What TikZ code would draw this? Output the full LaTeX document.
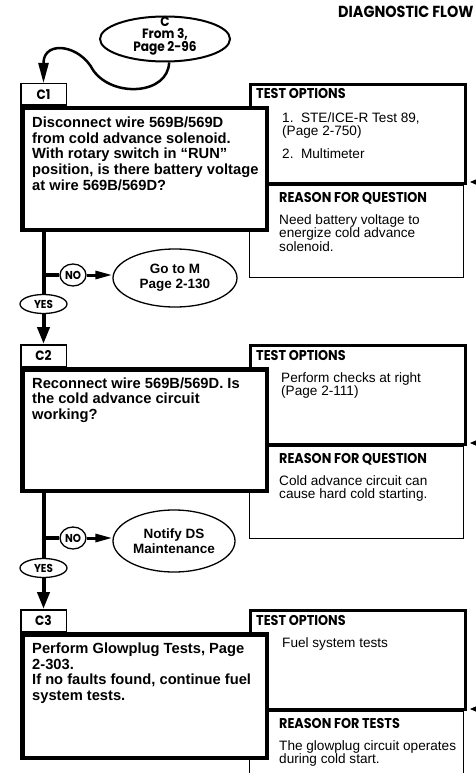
\documentclass[tikz,border=0pt]{standalone}
\usepackage{fontspec}
\setmainfont{Liberation Sans}
\newfontfamily\futfont{Poppins}[FakeStretch=0.9]
\usetikzlibrary{arrows.meta,shapes.geometric,positioning}
\tikzset{
    labbox/.style={draw, line width=1.5pt, minimum width=45.5pt, minimum height=21.5pt, inner sep=0pt,
        font=\futfont\bfseries\fontsize{13.5}{13}\selectfont},
    qbox/.style={draw, fill=white, line width=4.5pt, minimum width=244.5pt, minimum height=121.5pt, inner sep=0pt},
    optbox/.style={draw, line width=2.8pt, minimum width=215.2pt, minimum height=99.2pt, inner sep=0pt},
    whybox/.style={draw, line width=1.2pt, minimum width=213.8pt, minimum height=91.8pt, inner sep=0pt},
    qtext/.style={anchor=north west, inner sep=0pt, align=left, font=\bfseries\fontsize{14.7}{15.7}\selectfont},
    otext/.style={anchor=north west, inner sep=0pt, align=left, font=\fontsize{13.6}{13.5}\selectfont},
    head/.style={anchor=base west, inner sep=0pt, font=\futfont\bfseries\fontsize{14.2}{14}\selectfont},
    endoval/.style={draw, ellipse, line width=1.3pt, inner sep=0pt, align=center,
        font=\bfseries\fontsize{13.5}{15}\selectfont},
    ansoval/.style={draw, ellipse, line width=1.3pt, inner sep=0pt, font=\futfont\bfseries\fontsize{11.5}{11}\selectfont},
    flow/.style={line width=4pt},
    flowarrow/.style={line width=4pt, -{Triangle[length=17pt,width=12pt]}},
    noarrow/.style={line width=3pt, -{Triangle[length=17pt,width=8pt]}},
    curvearrow/.style={line width=2.5pt, -{Triangle[length=20pt,width=10pt]}},
    sidearrow/.style={line width=0.8pt, -{Triangle[length=6pt,width=5pt]}},
}

\begin{document}
\begin{tikzpicture}[x=1pt, y=-1pt]
    \useasboundingbox (0,0) rectangle (476,773);
    \node[head, font=\futfont\bfseries\fontsize{16}{16}\selectfont] (title) at (338,18) {DIAGNOSTIC FLOW};
    % entry point
    \node[draw, ellipse, line width=2pt, minimum width=130pt, minimum height=45pt, inner sep=0pt] (cin) at (165,39) {};
    \node[align=center, inner sep=0pt, font=\futfont\bfseries\fontsize{13.5}{12.3}\selectfont] (cintext) at (165,36) {C\\From 3,\\Page 2-96};
    % C1
    \node[whybox] (r1) at (356.5,231.5) {};
    \node[optbox] (t1) at (358,134) {};
    \node[qbox] (q1) at (144.5,169) {};
    \node[labbox] (c1) at (43.5,94.5) {C1};
    \node[head] (t1h) at (256,99) {TEST OPTIONS};
    \node[otext] (t1x) at (282,112.1) {1.\ \ STE/ICE-R Test 89,\\(Page 2-750)\\[9pt]2.\ \ Multimeter};
    \node[head] (r1h) at (279,202) {REASON FOR QUESTION};
    \node[otext] (r1x) at (279,214.1) {Need battery voltage to\\energize cold advance\\solenoid.};
    \node[qtext] (q1x) at (32,116.5) {Disconnect wire 569B/569D\\from cold advance solenoid.\\With rotary switch in “RUN”\\position, is there battery voltage\\at wire 569B/569D?};
    \coordinate (m1a) at (482,182);
    \coordinate (m1b) at (470,182);
    \draw[sidearrow] (m1a) -- (m1b);
    \draw[curvearrow] (cin.-80) .. controls (168,95) and (112,98) .. (93,70)
        .. controls (80,45) and (45,40) .. (43.5,62) -- (c1);
    % C1 branches
    \node[ansoval, minimum width=26pt, minimum height=22pt] (n1) at (73,275) {NO};
    \node[endoval, minimum width=124pt, minimum height=58pt] (g1) at (175,278) {Go to M\\Page 2-130};
    \node[ansoval, minimum width=47pt, minimum height=19pt] (y1) at (43.5,304) {YES};
    \draw[flow] (y1 |- q1.south) -- (y1);
    \draw[flow] (y1 |- n1) -- (n1);
    \draw[noarrow] (n1) -- (n1 -| g1.west);
    % C2
    \node[whybox] (r2) at (356.5,492.5) {};
    \node[optbox] (t2) at (358,395) {};
    \node[qbox] (q2) at (144.5,430) {};
    \node[labbox] (c2) at (43.5,355.5) {C2};
    \node[head] (t2h) at (256,360) {TEST OPTIONS};
    \node[otext] (t2x) at (281,372.1) {Perform checks at right\\(Page 2-111)};
    \node[head] (r2h) at (279,463) {REASON FOR QUESTION};
    \node[otext] (r2x) at (279,475.1) {Cold advance circuit can\\cause hard cold starting.};
    \node[qtext] (q2x) at (32,377.4) {Reconnect wire 569B/569D. Is\\the cold advance circuit\\working?};
    \coordinate (m2a) at (482,443);
    \coordinate (m2b) at (470,443);
    \draw[sidearrow] (m2a) -- (m2b);
    \draw[flowarrow] (y1) -- (c2);
    % C2 branches
    \node[ansoval, minimum width=26pt, minimum height=22pt] (n2) at (73,538) {NO};
    \node[endoval, minimum width=122pt, minimum height=62pt] (g2) at (174,541) {Notify DS\\Maintenance};
    \node[ansoval, minimum width=47pt, minimum height=19pt] (y2) at (43.5,568) {YES};
    \draw[flow] (y2 |- q2.south) -- (y2);
    \draw[flow] (y2 |- n2) -- (n2);
    \draw[noarrow] (n2) -- (n2 -| g2.west);
    % C3
    \node[whybox] (r3) at (356.5,757.5) {};
    \node[optbox] (t3) at (358,660) {};
    \node[qbox, minimum height=123.5pt] (q3) at (144.5,696) {};
    \node[labbox] (c3) at (43.5,620.5) {C3};
    \node[head] (t3h) at (256,625) {TEST OPTIONS};
    \node[otext] (t3x) at (282,637.1) {Fuel system tests};
    \node[head] (r3h) at (279,728) {REASON FOR TESTS};
    \node[otext] (r3x) at (279,740.1) {The glowplug circuit operates\\during cold start.};
    \node[qtext] (q3x) at (32,642.5) {Perform Glowplug Tests, Page\\2-303.\\If no faults found, continue fuel\\system tests.};
    \coordinate (m3a) at (482,709);
    \coordinate (m3b) at (470,709);
    \draw[sidearrow] (m3a) -- (m3b);
    \draw[flowarrow] (y2) -- (c3);
\end{tikzpicture}
\end{document}
